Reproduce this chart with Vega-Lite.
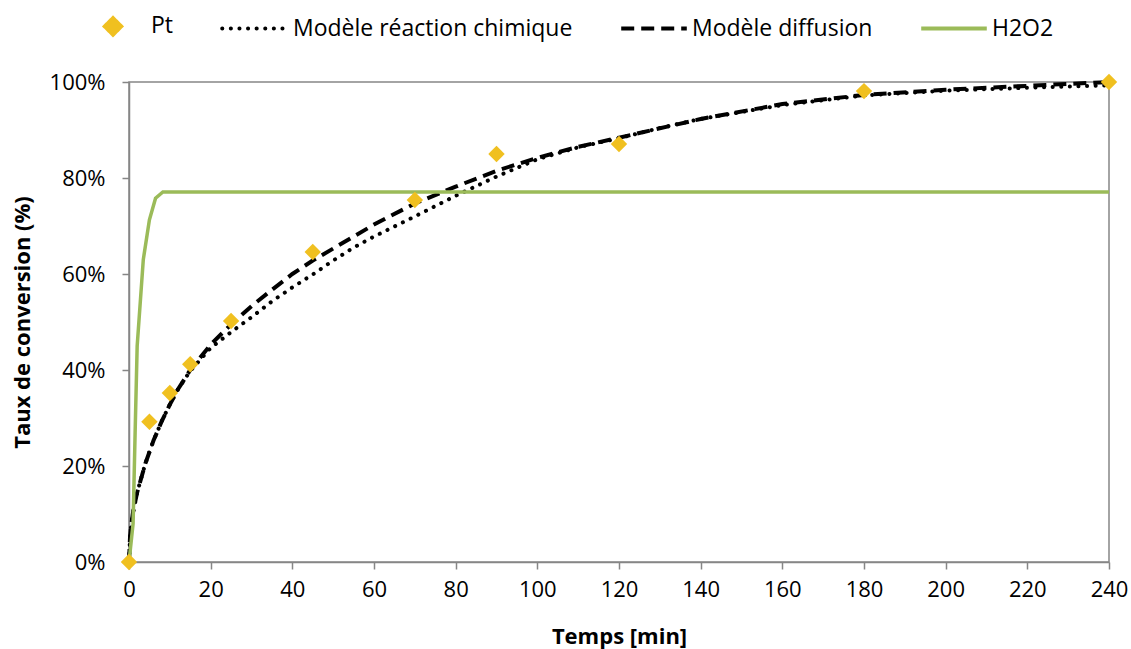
{
  "$schema": "https://vega.github.io/schema/vega-lite/v6.json",
  "autosize": {"type": "none"},
  "padding": {"left": 129, "top": 82, "right": 22, "bottom": 87},
  "width": 980,
  "height": 480,
  "background": "#ffffff",
  "data": {
    "values": [
      {"t": 0, "v": 0, "serie": "Pt"},
      {"t": 5, "v": 29.2, "serie": "Pt"},
      {"t": 10, "v": 35.2, "serie": "Pt"},
      {"t": 15, "v": 41.2, "serie": "Pt"},
      {"t": 25, "v": 50.2, "serie": "Pt"},
      {"t": 45, "v": 64.6, "serie": "Pt"},
      {"t": 70, "v": 75.4, "serie": "Pt"},
      {"t": 90, "v": 85, "serie": "Pt"},
      {"t": 120, "v": 87.1, "serie": "Pt"},
      {"t": 180, "v": 98.1, "serie": "Pt"},
      {"t": 240, "v": 100, "serie": "Pt"},

      {"t": 0, "v": 0, "serie": "Modèle réaction chimique"},
      {"t": 0.25, "v": 5.2, "serie": "Modèle réaction chimique"},
      {"t": 0.5, "v": 7.4, "serie": "Modèle réaction chimique"},
      {"t": 1, "v": 10.4, "serie": "Modèle réaction chimique"},
      {"t": 2, "v": 14.5, "serie": "Modèle réaction chimique"},
      {"t": 4, "v": 20.5, "serie": "Modèle réaction chimique"},
      {"t": 6, "v": 25.3, "serie": "Modèle réaction chimique"},
      {"t": 8, "v": 29.3, "serie": "Modèle réaction chimique"},
      {"t": 10, "v": 32.8, "serie": "Modèle réaction chimique"},
      {"t": 12, "v": 36, "serie": "Modèle réaction chimique"},
      {"t": 15, "v": 39.8, "serie": "Modèle réaction chimique"},
      {"t": 20, "v": 44.6, "serie": "Modèle réaction chimique"},
      {"t": 25, "v": 47.9, "serie": "Modèle réaction chimique"},
      {"t": 30, "v": 51, "serie": "Modèle réaction chimique"},
      {"t": 35, "v": 54.3, "serie": "Modèle réaction chimique"},
      {"t": 40, "v": 57.2, "serie": "Modèle réaction chimique"},
      {"t": 45, "v": 59.9, "serie": "Modèle réaction chimique"},
      {"t": 50, "v": 62.8, "serie": "Modèle réaction chimique"},
      {"t": 55, "v": 65.5, "serie": "Modèle réaction chimique"},
      {"t": 60, "v": 67.8, "serie": "Modèle réaction chimique"},
      {"t": 70, "v": 72, "serie": "Modèle réaction chimique"},
      {"t": 80, "v": 76.3, "serie": "Modèle réaction chimique"},
      {"t": 90, "v": 80.3, "serie": "Modèle réaction chimique"},
      {"t": 100, "v": 83.9, "serie": "Modèle réaction chimique"},
      {"t": 110, "v": 86.4, "serie": "Modèle réaction chimique"},
      {"t": 120, "v": 88.3, "serie": "Modèle réaction chimique"},
      {"t": 130, "v": 90.4, "serie": "Modèle réaction chimique"},
      {"t": 140, "v": 92.3, "serie": "Modèle réaction chimique"},
      {"t": 160, "v": 95.2, "serie": "Modèle réaction chimique"},
      {"t": 180, "v": 97.2, "serie": "Modèle réaction chimique"},
      {"t": 200, "v": 98.2, "serie": "Modèle réaction chimique"},
      {"t": 220, "v": 98.8, "serie": "Modèle réaction chimique"},
      {"t": 240, "v": 99.3, "serie": "Modèle réaction chimique"},

      {"t": 0, "v": 0, "serie": "Modèle diffusion"},
      {"t": 0.25, "v": 5.2, "serie": "Modèle diffusion"},
      {"t": 0.5, "v": 7.4, "serie": "Modèle diffusion"},
      {"t": 1, "v": 10.4, "serie": "Modèle diffusion"},
      {"t": 2, "v": 14.5, "serie": "Modèle diffusion"},
      {"t": 4, "v": 20.5, "serie": "Modèle diffusion"},
      {"t": 6, "v": 25.3, "serie": "Modèle diffusion"},
      {"t": 8, "v": 29.3, "serie": "Modèle diffusion"},
      {"t": 10, "v": 32.8, "serie": "Modèle diffusion"},
      {"t": 12, "v": 36, "serie": "Modèle diffusion"},
      {"t": 15, "v": 40, "serie": "Modèle diffusion"},
      {"t": 20, "v": 45.3, "serie": "Modèle diffusion"},
      {"t": 25, "v": 49.5, "serie": "Modèle diffusion"},
      {"t": 30, "v": 53.3, "serie": "Modèle diffusion"},
      {"t": 35, "v": 56.7, "serie": "Modèle diffusion"},
      {"t": 40, "v": 60, "serie": "Modèle diffusion"},
      {"t": 45, "v": 62.8, "serie": "Modèle diffusion"},
      {"t": 50, "v": 65.3, "serie": "Modèle diffusion"},
      {"t": 60, "v": 70.3, "serie": "Modèle diffusion"},
      {"t": 70, "v": 74.7, "serie": "Modèle diffusion"},
      {"t": 80, "v": 78.2, "serie": "Modèle diffusion"},
      {"t": 90, "v": 81.5, "serie": "Modèle diffusion"},
      {"t": 100, "v": 84.2, "serie": "Modèle diffusion"},
      {"t": 110, "v": 86.5, "serie": "Modèle diffusion"},
      {"t": 120, "v": 88.4, "serie": "Modèle diffusion"},
      {"t": 140, "v": 92.3, "serie": "Modèle diffusion"},
      {"t": 160, "v": 95.4, "serie": "Modèle diffusion"},
      {"t": 180, "v": 97.3, "serie": "Modèle diffusion"},
      {"t": 200, "v": 98.4, "serie": "Modèle diffusion"},
      {"t": 220, "v": 99.2, "serie": "Modèle diffusion"},
      {"t": 240, "v": 100, "serie": "Modèle diffusion"},

      {"t": 0, "v": 0, "serie": "H2O2"},
      {"t": 1, "v": 8, "serie": "H2O2"},
      {"t": 1.5, "v": 27, "serie": "H2O2"},
      {"t": 2, "v": 45, "serie": "H2O2"},
      {"t": 3.5, "v": 63, "serie": "H2O2"},
      {"t": 5, "v": 71.3, "serie": "H2O2"},
      {"t": 6.5, "v": 75.8, "serie": "H2O2"},
      {"t": 8.3, "v": 77.1, "serie": "H2O2"},
      {"t": 240, "v": 77.1, "serie": "H2O2"}
    ]
  },
  "encoding": {
    "x": {
      "field": "t", "type": "quantitative",
      "scale": {"domain": [0, 240], "nice": false, "zero": false},
      "axis": {
        "title": "Temps [min]",
        "values": [0, 20, 40, 60, 80, 100, 120, 140, 160, 180, 200, 220, 240],
        "labelFlush": false,
        "labelPadding": 10,
        "titlePadding": 26
      }
    },
    "y": {
      "field": "v", "type": "quantitative",
      "scale": {"domain": [0, 100], "nice": false},
      "axis": {
        "title": "Taux de conversion (%)",
        "values": [0, 20, 40, 60, 80, 100],
        "labelExpr": "datum.value + '%'",
        "labelFlush": false,
        "labelPadding": 17,
        "titlePadding": 15
      }
    },
    "color": {
      "field": "serie", "type": "nominal",
      "scale": {
        "domain": ["Pt", "Modèle réaction chimique", "Modèle diffusion", "H2O2"],
        "range": ["#F0C020", "#000000", "#000000", "#9BBB59"]
      },
      "legend": {
        "title": null,
        "orient": "none",
        "legendX": -51,
        "legendY": -91,
        "direction": "horizontal",
        "symbolSize": 4300,
        "symbolStrokeWidth": 4,
        "labelFontSize": 23,
        "labelLimit": 0,
        "labelColor": "#000000",
        "labelOffset": 3,
        "columnPadding": 40,
        "encode": {
          "symbols": {
            "update": {
              "shape": {"signal": "datum.value === 'Pt' ? 'diamond' : 'stroke'"},
              "size": {"signal": "datum.value === 'Pt' ? 270 : 4300"},
              "fill": {"signal": "datum.value === 'Pt' ? '#F0C020' : 'transparent'"},
              "stroke": {"signal": "datum.value === 'Pt' ? 'transparent' : (datum.value === 'H2O2' ? '#9BBB59' : '#000000')"},
              "strokeWidth": {"value": 4},
              "strokeDash": {"signal": "datum.value === 'Modèle réaction chimique' ? [0.1, 8.5] : (datum.value === 'Modèle diffusion' ? [13, 7] : [1, 0])"},
              "strokeCap": {"signal": "datum.value === 'Modèle réaction chimique' ? 'round' : 'butt'"},
              "opacity": {"value": 1}
            }
          }
        }
      }
    }
  },
  "layer": [
    {
      "transform": [{"filter": "datum.serie === 'Modèle réaction chimique'"}],
      "mark": {"type": "line", "strokeWidth": 4, "strokeDash": [0.1, 8.5], "strokeCap": "round"}
    },
    {
      "transform": [{"filter": "datum.serie === 'Modèle diffusion'"}],
      "mark": {"type": "line", "strokeWidth": 4, "strokeDash": [13, 7], "strokeCap": "butt"}
    },
    {
      "transform": [{"filter": "datum.serie === 'H2O2'"}],
      "mark": {"type": "line", "strokeWidth": 3.5}
    },
    {
      "transform": [{"filter": "datum.serie === 'Pt'"}],
      "mark": {"type": "point", "shape": "diamond", "filled": true, "size": 270, "opacity": 1}
    }
  ],
  "config": {
    "font": "Open Sans",
    "view": {"stroke": "#868686", "strokeWidth": 1.5},
    "axis": {
      "grid": false,
      "domainColor": "#868686",
      "domainWidth": 1.5,
      "tickColor": "#868686",
      "tickWidth": 1.5,
      "tickSize": 7,
      "labelFont": "Open Sans",
      "labelFontSize": 22,
      "labelColor": "#000000",
      "titleFont": "Open Sans",
      "titleFontSize": 22,
      "titleFontWeight": "bold",
      "titleColor": "#000000"
    },
    "legend": {"labelFont": "Open Sans"}
  }
}
